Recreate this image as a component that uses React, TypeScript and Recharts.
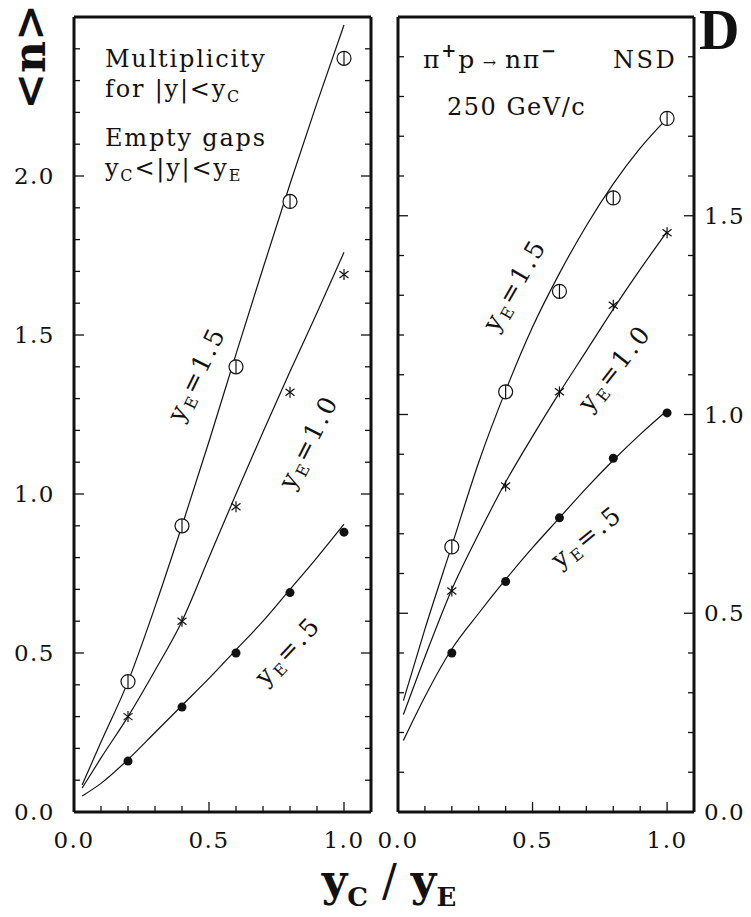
import { ComposedChart, Line, Scatter, XAxis, YAxis } from "recharts";

// y_C / y_E positions of the measured points
const pointX = [0.2, 0.4, 0.6, 0.8, 1.0];

// smooth fit curves, sampled along y_C / y_E
const leftFitX = [0.03, 0.1, 0.2, 0.3, 0.4, 0.5, 0.6, 0.7, 0.8, 0.9, 1.0];
const rightFitX = [0.02, 0.1, 0.2, 0.3, 0.4, 0.5, 0.6, 0.7, 0.8, 0.9, 1.0];

// left panel: multiplicity for |y| < y_C
const leftPts15 = [0.41, 0.9, 1.4, 1.92, 2.37];
const leftPts10 = [0.3, 0.6, 0.96, 1.32, 1.69];
const leftPts05 = [0.16, 0.33, 0.5, 0.69, 0.88];
const leftFit15 = [0.085, 0.22, 0.41, 0.645, 0.9, 1.165, 1.44, 1.71, 1.975, 2.23, 2.475];
const leftFit10 = [0.075, 0.17, 0.3, 0.445, 0.6, 0.8, 1.0, 1.195, 1.385, 1.57, 1.76];
const leftFit05 = [0.05, 0.09, 0.165, 0.25, 0.335, 0.42, 0.51, 0.6, 0.7, 0.8, 0.905];

// right panel: pi+ p -> n pi-, NSD, 250 GeV/c
const rightPts15 = [0.667, 1.057, 1.31, 1.545, 1.745];
const rightPts10 = [0.556, 0.82, 1.057, 1.275, 1.457];
const rightPts05 = [0.4, 0.58, 0.74, 0.89, 1.004];
const rightFit15 = [0.28, 0.46, 0.67, 0.88, 1.06, 1.22, 1.355, 1.475, 1.58, 1.67, 1.745];
const rightFit10 = [0.245, 0.39, 0.56, 0.7, 0.83, 0.945, 1.055, 1.16, 1.265, 1.365, 1.46];
const rightFit05 = [0.18, 0.29, 0.41, 0.5, 0.585, 0.665, 0.74, 0.815, 0.885, 0.95, 1.01];

const xTicks = [0, 0.1, 0.2, 0.3, 0.4, 0.5, 0.6, 0.7, 0.8, 0.9, 1.0];
const leftYTicks = [
  0, 0.1, 0.2, 0.3, 0.4, 0.5, 0.6, 0.7, 0.8, 0.9, 1.0, 1.1, 1.2, 1.3, 1.4, 1.5, 1.6, 1.7, 1.8,
  1.9, 2.0, 2.1, 2.2, 2.3, 2.4,
];
const rightYTicks = [
  0, 0.1, 0.2, 0.3, 0.4, 0.5, 0.6, 0.7, 0.8, 0.9, 1.0, 1.1, 1.2, 1.3, 1.4, 1.5, 1.6, 1.7, 1.8,
  1.9,
];

const SERIF = "'DejaVu Serif', serif";
const INK = "#111";

const toPairs = (xs: number[], ys: number[]) => xs.map((x, i) => ({ x, y: ys[i] }));
const isMajor = (v: number) => Math.abs(v * 2 - Math.round(v * 2)) < 1e-6;

const labelStyle = { fontFamily: SERIF, fontSize: 23, letterSpacing: 1.5, fill: INK };

// ticks point into the frame; labels only on the half-unit ticks
const makeTick = (side: "bottom" | "top" | "left" | "right", labelled: boolean) => (p: any) => {
  const v = p.payload.value;
  const len = isMajor(v) ? 10 : 6;
  const { x, y } = p;
  let line;
  if (side === "bottom") line = <line x1={x} y1={y} x2={x} y2={y - len} />;
  else if (side === "top") line = <line x1={x} y1={y} x2={x} y2={y + len} />;
  else if (side === "left") line = <line x1={x} y1={y} x2={x + len} y2={y} />;
  else line = <line x1={x} y1={y} x2={x - len} y2={y} />;
  let label = null;
  if (labelled && isMajor(v)) {
    if (side === "bottom")
      label = <text x={x} y={y + 36} textAnchor="middle" style={labelStyle}>{v.toFixed(1)}</text>;
    else if (side === "left")
      label = <text x={x - 19} y={y + 8} textAnchor="end" style={labelStyle}>{v.toFixed(1)}</text>;
    else if (side === "right")
      label = <text x={x + 10} y={y + 8} textAnchor="start" style={labelStyle}>{v.toFixed(1)}</text>;
  }
  return (
    <g>
      <g stroke={INK} strokeWidth={1.3}>{line}</g>
      {label}
    </g>
  );
};

const OpenCircle = (p: any) => (
  <g stroke={INK} strokeWidth={1.2}>
    <circle cx={p.cx} cy={p.cy} r={7} fill="#fff" />
    <line x1={p.cx} y1={p.cy - 7} x2={p.cx} y2={p.cy + 7} />
  </g>
);

const Star = (p: any) => (
  <g stroke={INK} strokeWidth={1.2}>
    <line x1={p.cx} y1={p.cy - 5.5} x2={p.cx} y2={p.cy + 5.5} />
    <line x1={p.cx - 4.5} y1={p.cy - 3.5} x2={p.cx + 4.5} y2={p.cy + 3.5} />
    <line x1={p.cx - 4.5} y1={p.cy + 3.5} x2={p.cx + 4.5} y2={p.cy - 3.5} />
  </g>
);

const Dot = (p: any) => <circle cx={p.cx} cy={p.cy} r={4.5} fill={INK} />;

interface PanelProps {
  left: number;
  width: number;
  margin: { top: number; right: number; bottom: number; left: number };
  yMax: number;
  yTicks: number[];
  labelSide: "left" | "right";
  fitX: number[];
  fits: number[][];
  points: number[][];
}

function Panel({ left, width, margin, yMax, yTicks, labelSide, fitX, fits, points }: PanelProps) {
  const frame = { stroke: INK, strokeWidth: 3 };
  const shapes = [OpenCircle, Star, Dot];
  return (
    <div style={{ position: "absolute", left, top: 0 }}>
      <ComposedChart width={width} height={917} margin={margin}>
        <XAxis
          xAxisId="b"
          type="number"
          dataKey="x"
          domain={[0, 1.1]}
          ticks={xTicks}
          interval={0}
          height={1}
          tickSize={0}
          tickMargin={0}
          axisLine={frame}
          tick={makeTick("bottom", true)}
        />
        <XAxis
          xAxisId="t"
          orientation="top"
          type="number"
          dataKey="x"
          domain={[0, 1.1]}
          ticks={xTicks}
          interval={0}
          height={1}
          tickSize={0}
          tickMargin={0}
          axisLine={frame}
          tick={makeTick("top", false)}
        />
        <YAxis
          yAxisId="l"
          type="number"
          domain={[0, yMax]}
          allowDataOverflow
          ticks={yTicks}
          interval={0}
          width={1}
          tickSize={0}
          tickMargin={0}
          axisLine={frame}
          tick={makeTick("left", labelSide === "left")}
        />
        <YAxis
          yAxisId="r"
          orientation="right"
          type="number"
          domain={[0, yMax]}
          allowDataOverflow
          ticks={yTicks}
          interval={0}
          width={1}
          tickSize={0}
          tickMargin={0}
          axisLine={frame}
          tick={makeTick("right", labelSide === "right")}
        />
        {fits.map((f, i) => (
          <Line
            key={"fit" + i}
            xAxisId="b"
            yAxisId="l"
            data={toPairs(fitX, f)}
            dataKey="y"
            type="monotone"
            stroke={INK}
            strokeWidth={1.2}
            dot={false}
            activeDot={false}
            isAnimationActive={false}
          />
        ))}
        {points.map((pts, i) => (
          <Scatter
            key={"pts" + i}
            xAxisId="b"
            yAxisId="l"
            data={toPairs(pointX, pts)}
            dataKey="y"
            shape={shapes[i]}
            isAnimationActive={false}
          />
        ))}
      </ComposedChart>
    </div>
  );
}

// rotated y_E = ... tag along a curve
function CurveTag({ cx, cy, angle, value }: { cx: number; cy: number; angle: number; value: string }) {
  return (
    <text
      x={cx}
      y={cy + 8}
      textAnchor="middle"
      transform={`rotate(${angle} ${cx} ${cy})`}
      style={{ fontFamily: SERIF, fontSize: 25, letterSpacing: 2.5, fill: INK }}
    >
      y<tspan fontSize={16} dy={5}>E</tspan>
      <tspan dy={-5}>=</tspan>
      {value}
    </text>
  );
}

export default function App() {
  const note = { fontFamily: SERIF, fontSize: 24, letterSpacing: 1.8, fill: INK };
  return (
    <div style={{ position: "absolute", left: 0, top: 0, width: 751, height: 917, background: "#fff" }}>
      <Panel
        left={0}
        width={390}
        margin={{ top: 16, right: 18, bottom: 104, left: 73 }}
        yMax={2.5}
        yTicks={leftYTicks}
        labelSide="left"
        fitX={leftFitX}
        fits={[leftFit15, leftFit10, leftFit05]}
        points={[leftPts15, leftPts10, leftPts05]}
      />
      <Panel
        left={356}
        width={395}
        margin={{ top: 16, right: 56, bottom: 104, left: 41 }}
        yMax={2.0}
        yTicks={rightYTicks}
        labelSide="right"
        fitX={rightFitX}
        fits={[rightFit15, rightFit10, rightFit05]}
        points={[rightPts15, rightPts10, rightPts05]}
      />
      <div
        style={{
          position: "absolute",
          left: 699,
          top: 2,
          fontFamily: "'Liberation Serif', serif",
          fontSize: 56,
          fontWeight: 700,
          lineHeight: "56px",
          color: INK,
        }}
      >
        D
      </div>
      <svg
        width={751}
        height={917}
        style={{ position: "absolute", left: 0, top: 0, pointerEvents: "none" }}
      >
        <text
          x={30}
          y={72}
          textAnchor="middle"
          transform="rotate(-90 30 57)"
          style={{ fontFamily: SERIF, fontSize: 44, fontWeight: 700, fill: INK }}
        >
          {"<n>"}
        </text>

        <text x={105} y={67} style={note}>Multiplicity</text>
        <text x={105} y={97} style={note}>
          for |y|&lt;y<tspan fontSize={16} dy={5}>C</tspan>
        </text>
        <text x={105} y={146} style={note}>Empty gaps</text>
        <text x={105} y={176} style={note}>
          y<tspan fontSize={16} dy={5}>C</tspan>
          <tspan dy={-5}>&lt;|y|&lt;y</tspan>
          <tspan fontSize={16} dy={5}>E</tspan>
        </text>

        <text x={423} y={68} style={{ ...note, fontSize: 25 }}>
          π<tspan fontSize={18} fontWeight={700} dy={-11}>+</tspan>
          <tspan dy={11}>p</tspan>
          <tspan fontSize={16}> → </tspan>
          nπ<tspan fontSize={18} fontWeight={700} dy={-11}>−</tspan>
        </text>
        <text x={613} y={68} style={{ ...note, letterSpacing: 2.5 }}>NSD</text>
        <text x={447} y={115} style={{ ...note, letterSpacing: 1.5 }}>250 GeV/c</text>

        <CurveTag cx={197} cy={374} angle={-64} value="1.5" />
        <CurveTag cx={309} cy={442} angle={-63} value="1.0" />
        <CurveTag cx={288} cy={651} angle={-47} value=".5" />
        <CurveTag cx={515} cy={285} angle={-60} value="1.5" />
        <CurveTag cx={615} cy={368} angle={-52} value="1.0" />
        <CurveTag cx={587} cy={537} angle={-39} value=".5" />

        <text
          x={389}
          y={896}
          textAnchor="middle"
          style={{ fontFamily: SERIF, fontSize: 44, fontWeight: 700, fill: INK }}
        >
          y<tspan fontSize={26} dy={10}>C</tspan>
          <tspan dy={-10} fontWeight={400}> / </tspan>
          y<tspan fontSize={26} dy={10}>E</tspan>
        </text>
      </svg>
    </div>
  );
}
